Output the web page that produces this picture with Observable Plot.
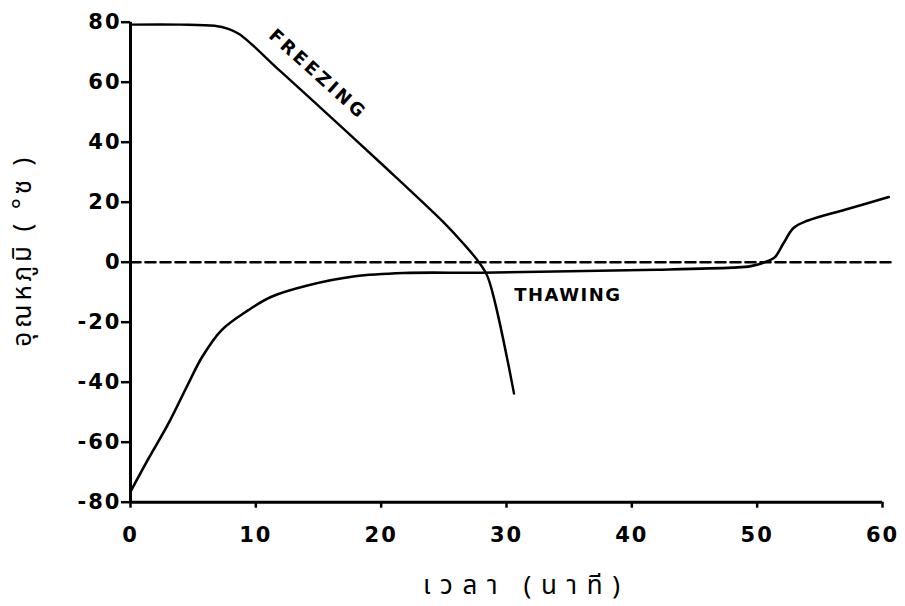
<!DOCTYPE html>
<html>
<head>
<meta charset="utf-8">
<script src="https://cdn.jsdelivr.net/npm/d3@7"></script>
<script src="https://cdn.jsdelivr.net/npm/@observablehq/plot@0.6"></script>
<style>
  html, body { margin: 0; padding: 0; background: #fff; }
  #chart svg { display: block; }
  g[aria-label="y-axis tick label"] text,
  g[aria-label="x-axis tick label"] text { letter-spacing: 2px; }
</style>
</head>
<body>
<div id="chart"></div>
<script>
// Freezing curve (time in minutes, temperature in °C)
const freezeTime = [0, 4, 6.7, 7.8, 8.7, 12, 16, 20, 25.1, 26.5, 27.8, 28.5, 30.6];
const freezeTemp = [79.2, 79.2, 78.8, 77.8, 76, 63.5, 48.3, 32.9, 12.8, 6.5, 0, -4.9, -43.8];

// Thawing curve
const thawTime = [0, 1.5, 3, 4.6, 5.7, 7.25, 9.4, 11.2, 14.2, 17.9, 21.8, 28, 35, 42, 48, 49.5, 50.8, 51.4, 52.1, 52.9, 54, 57, 60.5];
const thawTemp = [-76.5, -65, -54, -40.6, -31.7, -22.7, -16, -11.6, -7.7, -4.7, -3.6, -3.5, -3, -2.5, -1.8, -1.3, 0.3, 1.6, 6.3, 11.4, 13.8, 17.5, 21.7];

// Zero reference (dashed)
const zeroTime = [0, 60.7];
const zeroTemp = [0, 0];

// Axis ticks
const xTicks = [0, 10, 20, 30, 40, 50, 60];
const yTicks = [-80, -60, -40, -20, 0, 20, 40, 60, 80];

// Texts
const xTitle = "เวลา (นาที)";
const yTitle = "อุณหภูมิ ( °ซ )";
const freezeLabel = "FREEZING";
const thawLabel = "THAWING";
const freezeLabelPos = [14.94, 62.6];
const thawLabelPos = [34.9, -11.1];

const freezing = freezeTime.map((t, i) => ({t, v: freezeTemp[i]}));
const thawing = thawTime.map((t, i) => ({t, v: thawTemp[i]}));
const zero = zeroTime.map((t, i) => ({t, v: zeroTemp[i]}));

const fmt = d => (d < 0 ? "-" + Math.abs(d) : String(d));
const tickFont = "DejaVu Sans, sans-serif";
const thaiFont = "Noto Sans Thai, Loma, Garuda, Norasi, Noto Sans, DejaVu Sans, sans-serif";

const chart = Plot.plot({
  width: 905,
  height: 606,
  marginLeft: 130,
  marginRight: 23,
  marginTop: 21.7,
  marginBottom: 104.3,
  style: {background: "#fff", color: "#000", overflow: "visible"},
  x: {domain: [0, 60]},
  y: {domain: [-80, 80]},
  marks: [
    Plot.line(zero, {x: "t", y: "v", stroke: "#000", strokeWidth: 2.6, strokeDasharray: "10,5"}),
    Plot.line(freezing, {x: "t", y: "v", stroke: "#000", strokeWidth: 2.4, curve: "catmull-rom"}),
    Plot.line(thawing, {x: "t", y: "v", stroke: "#000", strokeWidth: 2.6, curve: "catmull-rom"}),
    Plot.ruleX([0], {stroke: "#000", strokeWidth: 3}),
    Plot.ruleY([-80], {stroke: "#000", strokeWidth: 3}),
    Plot.axisX({
      ticks: xTicks, tickFormat: fmt, tickSize: 6, tickPadding: 19,
      strokeWidth: 2.5, fontSize: 21, fontWeight: "bold", fontFamily: tickFont,
      label: null
    }),
    Plot.axisY({
      ticks: yTicks, tickFormat: fmt, tickSize: 9, tickPadding: 0,
      strokeWidth: 2.5, fontSize: 21, fontWeight: "bold", fontFamily: tickFont,
      label: null
    }),
    Plot.text([freezeLabel], {
      x: () => freezeLabelPos[0], y: () => freezeLabelPos[1], text: d => d, rotate: 42,
      fontSize: 18, fontWeight: "bold", fontFamily: tickFont, fill: "#000"
    }),
    Plot.text([thawLabel], {
      x: () => thawLabelPos[0], y: () => thawLabelPos[1], text: d => d,
      fontSize: 18, fontWeight: "bold", fontFamily: tickFont, fill: "#000"
    }),
    Plot.text([xTitle], {
      frameAnchor: "bottom", dx: 15, dy: 83, text: d => d, textAnchor: "middle", lineAnchor: "middle",
      fontSize: 26, fontFamily: thaiFont, fill: "#000"
    }),
    Plot.text([yTitle], {
      frameAnchor: "left", dx: -108, dy: -10, rotate: -90, text: d => d,
      textAnchor: "middle", lineAnchor: "middle",
      fontSize: 26, fontFamily: thaiFont, fill: "#000"
    })
  ]
});

document.getElementById("chart").appendChild(chart);

const allText = d3.select(chart).selectAll("text");
const byContent = s => allText.filter(function () { return this.textContent === s; });

byContent(freezeLabel).style("letter-spacing", "3px");
byContent(thawLabel).style("letter-spacing", "1.5px");

// Spread the Thai titles (typewriter-like spacing) by splitting into grapheme tspans
function spread(sel, target) {
  sel.each(function () {
    const el = this;
    const str = el.textContent;
    const natural = el.getComputedTextLength();
    const seg = (typeof Intl !== "undefined" && Intl.Segmenter)
      ? Array.from(new Intl.Segmenter("th", {granularity: "grapheme"}).segment(str), s => s.segment)
      : Array.from(str);
    if (seg.length < 2) return;
    const gap = Math.max(0, (target - natural) / (seg.length - 1));
    el.textContent = "";
    seg.forEach((g, i) => {
      const ts = document.createElementNS("http://www.w3.org/2000/svg", "tspan");
      if (i > 0) ts.setAttribute("dx", gap);
      ts.textContent = g;
      el.appendChild(ts);
    });
  });
}
spread(byContent(xTitle), 197);
spread(byContent(yTitle), 189);
</script>
</body>
</html>
